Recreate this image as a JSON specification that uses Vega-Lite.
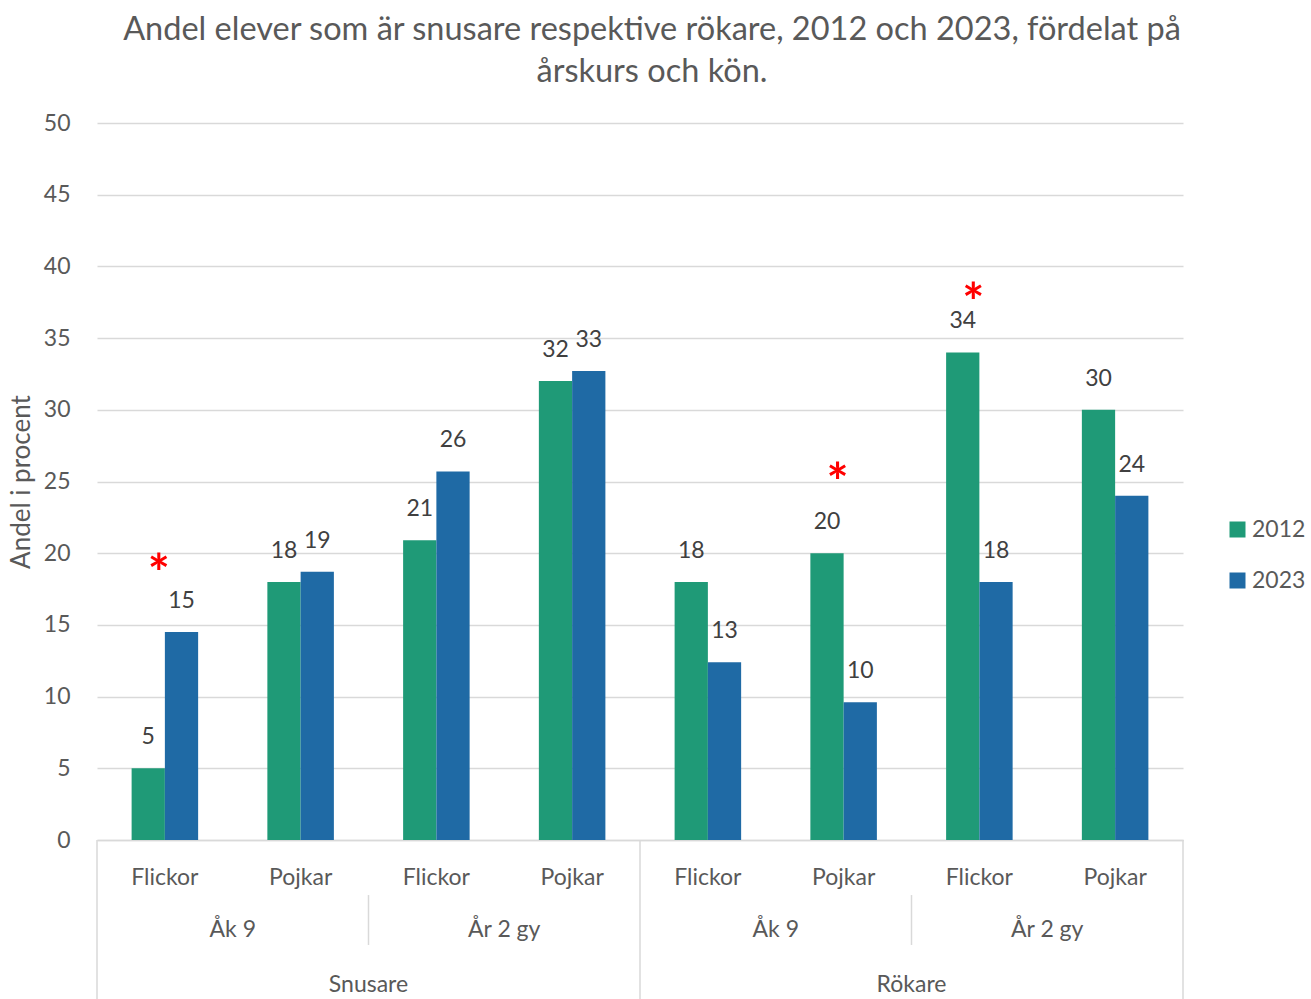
{
  "$schema": "https://vega.github.io/schema/vega-lite/v6.json",
  "width": 1086,
  "height": 717,
  "autosize": {"type": "none"},
  "padding": {"left": 97, "top": 123, "right": 128, "bottom": 159},
  "background": "white",
  "config": {
    "view": {"stroke": null},
    "font": "Lato",
    "text": {"font": "Lato"}
  },
  "title": {
    "text": ["Andel elever som är snusare respektive rökare, 2012 och 2023, fördelat på", "årskurs och kön."],
    "fontSize": 32.5,
    "fontWeight": "normal",
    "color": "#595959",
    "font": "Lato",
    "lineHeight": 42,
    "anchor": "middle",
    "dx": 12,
    "offset": 24
  },
  "datasets": {
    "bars": [
      {"grp": "Snusare|Åk 9|Flickor", "year": "2012", "value": 5.0, "label": "5"},
      {"grp": "Snusare|Åk 9|Flickor", "year": "2023", "value": 14.5, "label": "15"},
      {"grp": "Snusare|Åk 9|Pojkar", "year": "2012", "value": 18.0, "label": "18"},
      {"grp": "Snusare|Åk 9|Pojkar", "year": "2023", "value": 18.7, "label": "19"},
      {"grp": "Snusare|År 2 gy|Flickor", "year": "2012", "value": 20.9, "label": "21"},
      {"grp": "Snusare|År 2 gy|Flickor", "year": "2023", "value": 25.7, "label": "26"},
      {"grp": "Snusare|År 2 gy|Pojkar", "year": "2012", "value": 32.0, "label": "32"},
      {"grp": "Snusare|År 2 gy|Pojkar", "year": "2023", "value": 32.7, "label": "33"},
      {"grp": "Rökare|Åk 9|Flickor", "year": "2012", "value": 18.0, "label": "18"},
      {"grp": "Rökare|Åk 9|Flickor", "year": "2023", "value": 12.4, "label": "13"},
      {"grp": "Rökare|Åk 9|Pojkar", "year": "2012", "value": 20.0, "label": "20"},
      {"grp": "Rökare|Åk 9|Pojkar", "year": "2023", "value": 9.6, "label": "10"},
      {"grp": "Rökare|År 2 gy|Flickor", "year": "2012", "value": 34.0, "label": "34"},
      {"grp": "Rökare|År 2 gy|Flickor", "year": "2023", "value": 18.0, "label": "18"},
      {"grp": "Rökare|År 2 gy|Pojkar", "year": "2012", "value": 30.0, "label": "30"},
      {"grp": "Rökare|År 2 gy|Pojkar", "year": "2023", "value": 24.0, "label": "24"}
    ],
    "stars": [
      {"grp": "Snusare|Åk 9|Flickor", "value": 19.5},
      {"grp": "Rökare|Åk 9|Pojkar", "value": 25.9},
      {"grp": "Rökare|År 2 gy|Flickor", "value": 38.4}
    ],
    "grades": [
      {"gk": "Snusare|Åk 9", "name": "Åk 9"},
      {"gk": "Snusare|År 2 gy", "name": "År 2 gy"},
      {"gk": "Rökare|Åk 9", "name": "Åk 9"},
      {"gk": "Rökare|År 2 gy", "name": "År 2 gy"}
    ],
    "subs": [
      {"sub": "Snusare"},
      {"sub": "Rökare"}
    ],
    "longRules": [{"pos": 0}, {"pos": 4}, {"pos": 8}],
    "shortRules": [{"pos": 2}, {"pos": 6}]
  },
  "layer": [
    {
      "layer": [
        {
          "data": {"name": "bars"},
          "mark": {"type": "bar"},
          "encoding": {
            "x": {
              "field": "grp", "type": "nominal",
              "scale": {
                "domain": ["Snusare|Åk 9|Flickor", "Snusare|Åk 9|Pojkar", "Snusare|År 2 gy|Flickor", "Snusare|År 2 gy|Pojkar", "Rökare|Åk 9|Flickor", "Rökare|Åk 9|Pojkar", "Rökare|År 2 gy|Flickor", "Rökare|År 2 gy|Pojkar"],
                "paddingInner": 0.51, "paddingOuter": 0.255
              },
              "axis": {
                "title": null,
                "labelExpr": "slice(datum.label, lastindexof(datum.label, '|') + 1)",
                "labelAngle": 0,
                "labelFontSize": 23,
                "labelColor": "#595959",
                "labelPadding": 26,
                "ticks": false,
                "domainColor": "#d9d9d9",
                "domainWidth": 1.5,
                "grid": false
              }
            },
            "xOffset": {"field": "year", "type": "nominal", "scale": {"domain": ["2012", "2023"]}},
            "y": {
              "field": "value", "type": "quantitative",
              "scale": {"domain": [0, 50], "nice": false, "zero": true},
              "axis": {
                "title": "Andel i procent",
                "titleFontSize": 26,
                "titleFontWeight": "normal",
                "titleColor": "#595959",
                "titlePadding": 9,
                "values": [0, 5, 10, 15, 20, 25, 30, 35, 40, 45, 50],
                "labelFontSize": 23,
                "labelColor": "#595959",
                "labelPadding": 27,
                "ticks": false,
                "domain": false,
                "gridColor": "#d9d9d9",
                "gridWidth": 1.5
              }
            },
            "color": {
              "field": "year", "type": "nominal",
              "scale": {"domain": ["2012", "2023"], "range": ["#1f9a77", "#1f6aa5"]},
              "legend": {
                "title": null,
                "orient": "none",
                "legendX": 1129,
                "legendY": 395,
                "symbolType": "square",
                "symbolSize": 256,
                "symbolStrokeWidth": 0,
                "labelFontSize": 23,
                "labelColor": "#595959",
                "labelOffset": 3,
                "rowPadding": 27
              }
            }
          }
        },
        {
          "data": {"name": "bars"},
          "mark": {"type": "text", "fontSize": 23, "color": "#404040", "baseline": "middle", "dy": -31},
          "encoding": {
            "x": {"field": "grp", "type": "nominal"},
            "xOffset": {"field": "year", "type": "nominal"},
            "y": {"field": "value", "type": "quantitative"},
            "text": {"field": "label", "type": "nominal"}
          }
        },
        {
          "data": {"name": "stars"},
          "mark": {"type": "text", "text": "*", "fontSize": 52, "fontWeight": "bold", "color": "#ff0000", "baseline": "middle", "dx": -6, "dy": 16},
          "encoding": {
            "x": {"field": "grp", "type": "nominal"},
            "y": {"field": "value", "type": "quantitative"}
          }
        }
      ]
    },
    {
      "data": {"name": "grades"},
      "mark": {"type": "text", "fontSize": 23, "color": "#595959", "baseline": "middle"},
      "encoding": {
        "x": {"field": "gk", "type": "nominal", "axis": null,
              "scale": {"domain": ["Snusare|Åk 9", "Snusare|År 2 gy", "Rökare|Åk 9", "Rökare|År 2 gy"], "paddingInner": 0, "paddingOuter": 0}},
        "y": {"datum": -6.3, "type": "quantitative"},
        "text": {"field": "name", "type": "nominal"}
      }
    },
    {
      "data": {"name": "subs"},
      "mark": {"type": "text", "fontSize": 23, "color": "#595959", "baseline": "middle"},
      "encoding": {
        "x": {"field": "sub", "type": "nominal", "axis": null,
              "scale": {"domain": ["Snusare", "Rökare"], "paddingInner": 0, "paddingOuter": 0}},
        "y": {"datum": -10.1, "type": "quantitative"},
        "text": {"field": "sub", "type": "nominal"}
      }
    },
    {
      "data": {"name": "longRules"},
      "mark": {"type": "rule", "color": "#d9d9d9", "strokeWidth": 1.5},
      "encoding": {
        "x": {"field": "pos", "type": "quantitative", "axis": null, "scale": {"domain": [0, 8], "nice": false, "zero": false}},
        "y": {"datum": 0, "type": "quantitative"},
        "y2": {"datum": -11.1}
      }
    },
    {
      "data": {"name": "shortRules"},
      "mark": {"type": "rule", "color": "#d9d9d9", "strokeWidth": 1.5},
      "encoding": {
        "x": {"field": "pos", "type": "quantitative", "axis": null, "scale": {"domain": [0, 8], "nice": false, "zero": false}},
        "y": {"datum": -3.84, "type": "quantitative"},
        "y2": {"datum": -7.32}
      }
    }
  ],
  "resolve": {"scale": {"x": "independent"}, "axis": {"x": "independent"}}
}
